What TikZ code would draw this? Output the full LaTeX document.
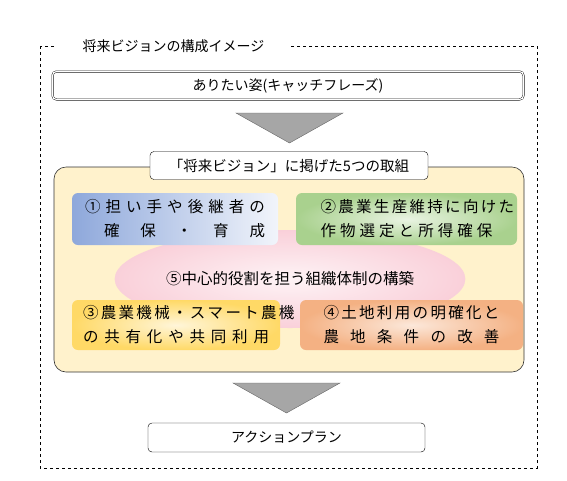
\documentclass[tikz,border=0pt]{standalone}
\usepackage{fontspec}
\setmainfont{Noto Sans CJK JP}
\usetikzlibrary{shapes.geometric,positioning}

\definecolor{creamfill}{HTML}{FFF2CC}
\definecolor{arrowgray}{HTML}{A6A6A6}
\definecolor{bluebox}{HTML}{8EA8DB}
\definecolor{greenbox}{HTML}{A9D18E}
\definecolor{yellowbox}{HTML}{FFD966}
\definecolor{orangebox}{HTML}{F4B183}
\definecolor{pinkcore}{HTML}{F8C4D0}

\newcommand{\spreadline}[2]{\makebox[#1][s]{#2}}

\tikzset{
  smalltext/.style={font=\fontsize{14}{17}\selectfont},
  boxtext/.style={font=\fontsize{15.5}{24}\selectfont, inner sep=0pt},
  whitebox/.style={draw=black, fill=white, rounded corners=4pt, inner sep=0pt, smalltext},
  colorbox/.style={boxtext, rounded corners=6pt, align=right},
  downarrow/.style={fill=arrowgray, draw=gray!80!black, line width=0.4pt}
}

\begin{document}
\begin{tikzpicture}[x=1pt,y=-1pt]
\useasboundingbox (0,0) rectangle (567,480);

% outer frame
\draw[dashed, line width=0.5pt] (40,46) rectangle (537,468);
\node[smalltext, fill=white, minimum width=233pt, minimum height=12pt, inner sep=0pt] (title) at (173.5,46) {将来ビジョンの構成イメージ};

% catch phrase
\node[whitebox, double, double distance=1.2pt, minimum width=471pt, minimum height=28pt] (wish) at (288,85.5) {ありたい姿(キャッチフレーズ)};

\draw[downarrow] (236,113) -- (343,113) -- (289.5,143) -- cycle;

% five actions
\draw[draw=black!80, fill=creamfill, rounded corners=12pt, line width=0.6pt] (54,167) rectangle (524,372);
\node[whitebox, font=\fontsize{14.5}{17}\selectfont, minimum width=278pt, minimum height=28pt] (actions) at (289,165.5) {「将来ビジョン」に掲げた5つの取組};

\node[ellipse, inner color=pinkcore!20, outer color=pinkcore!80, minimum width=336pt, minimum height=98pt, boxtext] (core) at (290,279) {⑤中心的役割を担う組織体制の構築};

\node[colorbox, left color=bluebox, right color=bluebox!12, minimum width=206pt, minimum height=52pt] (hands) at (175,219)
  {\spreadline{180pt}{① 担 い 手 や 後 継 者 の}\\\spreadline{161pt}{確 保 ・ 育 成}};
\node[colorbox, inner color=greenbox!25, outer color=greenbox, minimum width=221pt, minimum height=52pt] (crops) at (406.5,219)
  {\spreadline{172pt}{② 農 業 生 産 維 持 に 向 け た}\\\spreadline{172pt}{作 物 選 定 と 所 得 確 保}};
\node[colorbox, inner color=yellowbox!25, outer color=yellowbox, minimum width=208pt, minimum height=50pt] (machines) at (176,325)
  {\spreadline{186pt}{③ 農 業 機 械 ・ ス マ ー ト 農 機}\\\spreadline{186pt}{の 共 有 化 や 共 同 利 用}};
\node[colorbox, inner color=orangebox!30, outer color=orangebox, minimum width=223pt, minimum height=50pt] (land) at (411.5,325)
  {\spreadline{176pt}{④ 土 地 利 用 の 明 確 化 と}\\\spreadline{176pt}{農 地 条 件 の 改 善}};

\draw[downarrow] (233,383) -- (340,383) -- (286.5,413) -- cycle;

% action plan
\node[whitebox, minimum width=277pt, minimum height=29pt] (plan) at (286.5,437.5) {アクションプラン};

\end{tikzpicture}
\end{document}
